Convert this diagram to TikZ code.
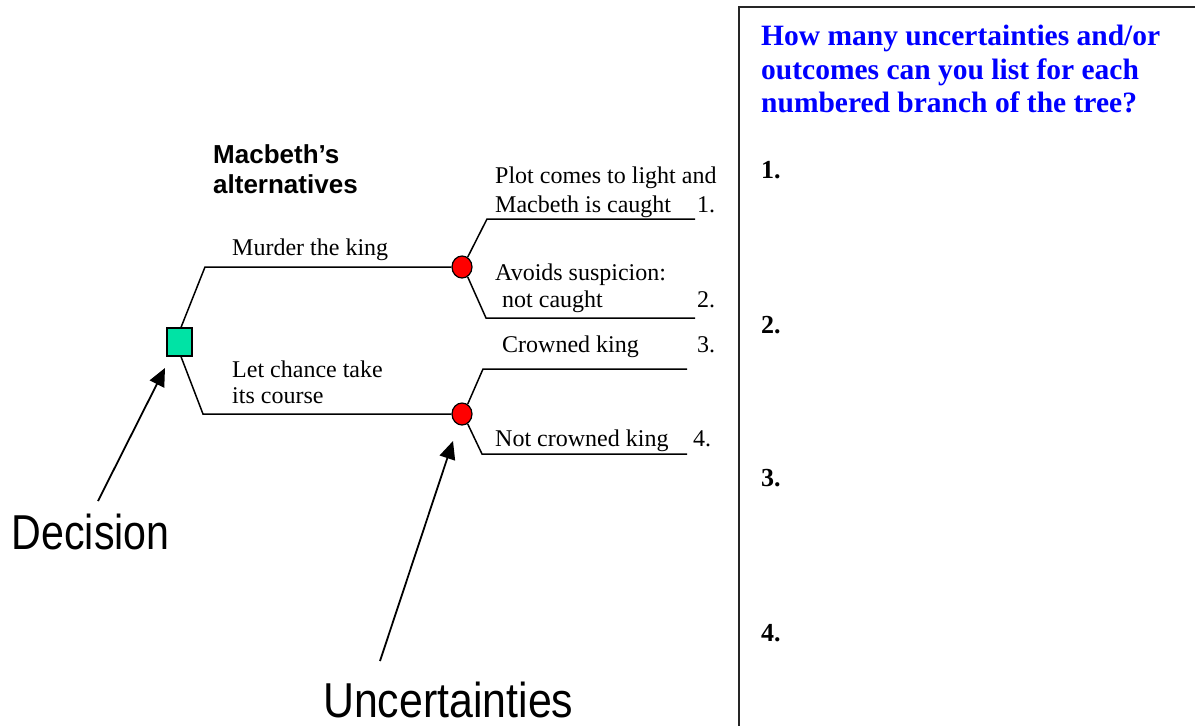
\documentclass[tikz,border=0pt]{standalone}
\usepackage{fontspec}
\setmainfont{Liberation Serif}
\newfontfamily\headsans{Liberation Sans}
\newfontfamily\callsans[FakeStretch=0.84]{Liberation Sans}
\newfontfamily\callsanswide[FakeStretch=0.875]{Liberation Sans}
\usetikzlibrary{arrows.meta,shapes.geometric}
\definecolor{decgreen}{HTML}{00E3A5}
\definecolor{qblue}{RGB}{0,0,255}
\definecolor{chancered}{RGB}{255,0,0}

\begin{document}
\begin{tikzpicture}[x=1pt,y=-1pt,
  lbl/.style={inner sep=0pt, anchor=base west, font=\fontsize{24}{28}\selectfont},
  heading/.style={inner sep=0pt, anchor=base west, font=\headsans\bfseries\fontsize{26}{30}\selectfont},
  callout/.style={inner sep=0pt, anchor=base west, font=\callsans\fontsize{49}{58}\selectfont},
  question/.style={inner sep=0pt, anchor=base west, text=qblue, font=\bfseries\fontsize{29.5}{34}\selectfont},
  itemno/.style={inner sep=0pt, anchor=base west, font=\bfseries\fontsize{26}{30}\selectfont},
  branch/.style={line width=1.5pt},
  pointer/.style={line width=1.8pt, -{Triangle[length=18pt,width=16pt]}},
  decisionnode/.style={draw, fill=decgreen, line width=1.2pt, minimum width=25pt, minimum height=28pt, inner sep=0pt},
  chancenode/.style={ellipse, draw, fill=chancered, line width=1.2pt, minimum width=20pt, minimum height=22pt, inner sep=0pt}
]
\useasboundingbox (0,0) rectangle (1195,726);
\clip (0,0) rectangle (1195,726);

% question panel on the right
\draw[line width=2pt, draw=black!85] (739,7) rectangle (1240,770);
\node[question] (q1) at (761,45) {How many uncertainties and/or};
\node[question] (q2) at (761,79) {outcomes can you list for each};
\node[question] (q3) at (761,112) {numbered branch of the tree?};
\node[itemno] (a1) at (761,178) {1.};
\node[itemno] (a2) at (761,333) {2.};
\node[itemno] (a3) at (761,486) {3.};
\node[itemno] (a4) at (761,641) {4.};

% decision and chance nodes
\node[decisionnode] (dec) at (179.5,342) {};
\node[chancenode] (c1) at (462,267) {};
\node[chancenode] (c2) at (462,414) {};

% bends and branch ends
\coordinate (k1) at (205,267);
\coordinate (k2) at (203,414);
\coordinate (u1) at (487,219);
\coordinate (e1) at (695,219);
\coordinate (u2) at (486,318);
\coordinate (e2) at (695,318);
\coordinate (u3) at (483,369);
\coordinate (e3) at (687,369);
\coordinate (u4) at (482,454);
\coordinate (e4) at (687,454);

\draw[branch] ([xshift=1.5pt]dec.north) -- (k1) -- (c1.west);
\draw[branch] ([xshift=1.5pt]dec.south) -- (k2) -- (c2.west);
\draw[branch] (c1.60) -- (u1) -- (e1);
\draw[branch] (c1.-60) -- (u2) -- (e2);
\draw[branch] (c2.60) -- (u3) -- (e3);
\draw[branch] (c2.-60) -- (u4) -- (e4);

% heading
\node[heading] (h1) at (213,163) {Macbeth’s};
\node[heading] (h2) at (213,193) {alternatives};

% branch labels
\node[lbl] (tmurder) at (232,255) {Murder the king};
\node[lbl] (tlet1) at (232,377) {Let chance take};
\node[lbl] (tlet2) at (232,403) {its course};
\node[lbl] (tplot1) at (495,183) {Plot comes to light and};
\node[lbl] (tplot2) at (495,212) {Macbeth is caught};
\node[lbl] (n1) at (697,212) {1.};
\node[lbl] (tav1) at (495,280) {Avoids suspicion:};
\node[lbl] (tav2) at (502,307) {not caught};
\node[lbl] (n2) at (697,307) {2.};
\node[lbl] (tcr) at (502,352) {Crowned king};
\node[lbl] (n3) at (697,352) {3.};
\node[lbl] (tnc) at (495,446) {Not crowned king};
\node[lbl] (n4) at (693,446) {4.};

% callouts with pointers
\node[callout] (decision) at (11.5,549) {Decision};
\node[callout, font=\callsanswide\fontsize{49}{58}\selectfont] (uncert) at (323,717.5) {Uncertainties};
\coordinate (dtail) at (98,501);
\coordinate (dtip) at (165,368);
\coordinate (utail) at (380,661);
\coordinate (utip) at (453,441);
\draw[pointer] (dtail) -- (dtip);
\draw[pointer] (utail) -- (utip);
\end{tikzpicture}
\end{document}
